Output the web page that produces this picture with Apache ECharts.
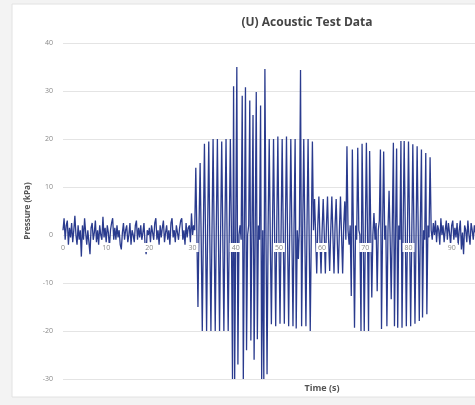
<!DOCTYPE html>
<html><head><meta charset="utf-8">
<script src="https://cdn.jsdelivr.net/npm/echarts@6/dist/echarts.min.js"></script>
<style>html,body{margin:0;padding:0;background:#f3f3f3;} #c{width:475px;height:405px;}</style>
</head><body><div id="c"></div>
<script>
// ---- data ----
const sampleStep = 0.25;            // seconds between samples
const segmentStarts = [0, 30.5, 58.0, 65.75, 85.5]; // start time (s) of each segment

// 0 - 30.25 s : background noise (kPa)
const noiseBefore = [
  1, 3.5, -1, 2, 3, -2, 1.5, -0.5,
  2.5, -1.5, 1, 4, 0, -2, 2, -1,
  1, -4.5, 2, -1, 3.5, 0.5, -2, 1,
  -1.5, -4, 1.5, 2.5, -1, 0.5, 3, -1.5,
  1, -2, 2, 0, -1, 3.8, -0.5, 1.5,
  -1.5, 2, 0.5, -2.5, 1, 2.5, 3.5, -1,
  1.5, -1, 2, -0.5, 1, -2, -3, 0.5,
  2.5, -1, 1, 2, -1.5, 0, 2.5, -2,
  1, 0, -1.5, 2, 3, -1, 1.5, -0.5,
  2, -1, 0.5, 2.5, -2, -4, 1, 0,
  1.5, -1.5, 2, 0.5, -1, 2.5, 3.5, -1,
  1, -2, 2, -0.5, 1.5, 3, -1.5, 0.5,
  2, -1, 1, -2, 2.5, 3.5, -0.5, 1,
  -1.5, 2, 0.5, -1, 1.5, 3, 3.5, -1,
  1, -2, 2.5, -0.5, 1.5, 2, -1.5, 4.5,
  0, 2
];

// 30.5 - 57.75 s : first burst (kPa)
const burstOne = [
  1, 14, 0, -15, 2, 15, -1, -20,
  1, 19, 0, -20, 2, 19.5, -1, -20,
  1, 20, 0, -20, 2, 20, -1, -20,
  1, 19.5, 0, -20, 2, 20, -1, -20,
  1, 20, 0, -30, 31, -30, 1, 35,
  -27, 0, 2, -1, 29, -30, 1, 30.8,
  -24, 0, 2, 28, -22, 1, 25, -26,
  0, 29.8, -21.7, 2, -1, 27, -30, 1,
  -30, 34.6, 0, -29, 2, 20, -1, -18.6,
  1, 20, 0, -19, 2, 20.5, -1, -18.5,
  1, 20, 0, -18.5, 2, 20.5, -1, -19,
  1, 20, 0, -19, 2, 20, -19.5, 1,
  -5, 2, 34.4, -19, 1, 20, 0, -19,
  2, 20, -1, -20, 1, 19.5
];

// 58 - 65.5 s : medium oscillation (kPa)
const midBand = [
  1, 7.5, 0, -8, 2, 8, -1, -8,
  1, 7.5, 0, -8, 2, 8, -1, -7.5,
  1, 8, 0, -8, 2, 7.5, -1, -8,
  1, 8, 0, -8, 2, 7, -1
];

// 65.75 - 85.25 s : second burst (kPa)
const burstTwo = [
  18.5, 1, -2, 2, -12.7, 17.8, 0, -19.3,
  2, -1, 18.2, 1, 0, -20, 19, 2,
  -20, 0, 19.2, 1, -20, 17.5, 2, -13,
  0, 4.6, -1, 2.5, -11.7, 1, 3, 17.8,
  -19.6, 1, 17.4, -1, 2, -19, 1, 9.2,
  -0.5, -13.4, 2, 19.2, -19, 1, 18, -19.3,
  2, -1, 19.6, -19.3, 1, 19.6, 2, -19,
  0, 19.5, 1.5, -19, -1, 18.9, 2, -18.5,
  0, 18.5, 1, -17.9, 2.5, 17.8, -17.2, 1,
  -1, 17.1, -16.5, 2, -0.5, 16.2, 1
];

// 85.5 - 95.5 s : background noise (kPa)
const noiseAfter = [
  -1, 2.5, 0, 3, -1.5, 2, 1, -2,
  3.5, 0, 2, -1.5, 1, 3, -1, 2.5,
  0.5, -2, 2, 3, -1, 1.5, -0.5, 2.5,
  -2, 1, 3, -3, 0.5, -4, 2, 1,
  -1.5, 3, 0, -2, 2.5, 1, -1, 2,
  0.5
];

const segments = [noiseBefore, burstOne, midBand, burstTwo, noiseAfter];
const xRange = [0, 95.4];
const yRange = [-30, 40];
const tickStep = 10;

// ---- build series points ----
const points = [];
segments.forEach((vals, s) => {
  vals.forEach((v, i) => {
    points.push([+(segmentStarts[s] + i * sampleStep).toFixed(2), v]);
  });
});

const gridTop = 43, gridBottom = 26, chartH = 405;
// vertical distance from the bottom of the plot to the zero line
const zeroOffset = (chartH - gridTop - gridBottom) * (0 - yRange[0]) / (yRange[1] - yRange[0]);

const chart = echarts.init(document.getElementById('c'), null, {renderer: 'canvas'});
chart.setOption({
  backgroundColor: '#f3f3f3',
  animation: false,
  graphic: [
    {type: 'rect', z: -10, shape: {x: 12, y: 4, width: 470, height: 393},
     style: {fill: '#ffffff', stroke: '#e2e2e2', lineWidth: 1}},
    {type: 'text', z: 20, style: {x: 307, y: 23, text: '(U) Acoustic Test Data',
      textAlign: 'center', textVerticalAlign: 'middle',
      font: 'bold 12px "Open Sans", sans-serif', fill: '#444444'}},
    {type: 'text', z: 20, style: {x: 322, y: 388, text: 'Time (s)',
      textAlign: 'center', textVerticalAlign: 'middle',
      font: 'bold 9px "Open Sans", sans-serif', fill: '#555555'}}
  ],
  grid: {left: 63, right: 0, top: gridTop, bottom: gridBottom, containLabel: false},
  xAxis: {
    type: 'value', min: xRange[0], max: xRange[1], interval: tickStep, z: 10,
    position: 'bottom', offset: -zeroOffset,
    axisLine: {show: false, onZero: false},
    axisTick: {show: false},
    splitLine: {show: false},
    axisLabel: {
      show: true, showMaxLabel: false, margin: 8,
      fontSize: 7, color: '#888888', fontFamily: '"Open Sans", sans-serif',
      backgroundColor: '#ffffff', padding: [1, 2],
      formatter: v => (v % tickStep === 0 ? String(v) : '')
    }
  },
  yAxis: {
    type: 'value', min: yRange[0], max: yRange[1], interval: tickStep,
    name: 'Pressure (kPa)', nameLocation: 'middle', nameGap: 27,
    nameTextStyle: {fontSize: 8, fontWeight: 'bold', color: '#555555', fontFamily: '"Open Sans", sans-serif'},
    axisLine: {show: false}, axisTick: {show: false},
    splitLine: {show: true, lineStyle: {color: '#e4e4e4', width: 1}},
    axisLabel: {fontSize: 7, color: '#888888', margin: 10, fontFamily: '"Open Sans", sans-serif'}
  },
  series: [{
    type: 'line', data: points, showSymbol: false, symbol: 'none',
    lineStyle: {color: '#2a3b8e', width: 1.3},
    z: 2
  }]
});
</script>
</body></html>
